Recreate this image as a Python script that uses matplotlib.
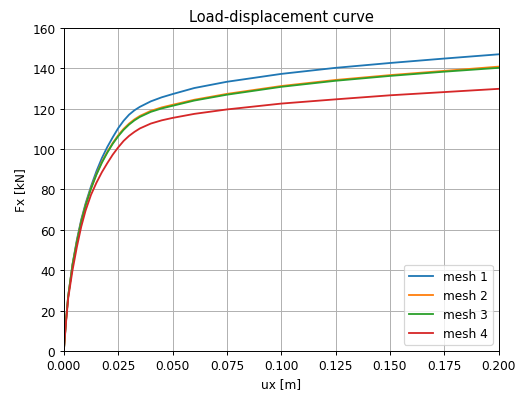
import numpy as np
import matplotlib.pyplot as plt

ux = [0, 0.001, 0.002, 0.004, 0.006, 0.008, 0.010, 0.0125, 0.015, 0.0175,
      0.02, 0.0225, 0.025, 0.0275, 0.03, 0.0325, 0.035, 0.04, 0.045, 0.05,
      0.06, 0.075, 0.1, 0.125, 0.15, 0.175, 0.2]

fx_mesh1 = [0, 15, 27, 43, 55, 65, 73, 81.5, 89, 95.5,
            101, 105.8, 110.3, 114, 117, 119.2, 120.9, 123.6, 125.6, 127.2,
            130.2, 133.3, 137.2, 140.2, 142.6, 144.8, 146.9]
fx_mesh2 = [0, 15, 27, 42.7, 54.3, 64.3, 72.3, 80.6, 87.6, 93.6,
            98.6, 103, 106.8, 110, 112.6, 114.7, 116.4, 118.9, 120.6, 121.9,
            124.4, 127.3, 131.2, 134.2, 136.6, 138.7, 140.8]
fx_mesh3 = [0, 15, 27, 42.5, 54, 64, 72, 80.3, 87.3, 93.2,
            98.2, 102.6, 106.3, 109.5, 112.1, 114.2, 115.9, 118.4, 120.1, 121.4,
            124, 126.9, 130.8, 133.8, 136.2, 138.3, 140.2]
fx_mesh4 = [0, 14, 26, 40, 51.5, 61.5, 69.5, 77.3, 83.3, 88.5,
            93, 97.2, 100.8, 104, 106.5, 108.5, 110.2, 112.6, 114.2, 115.4,
            117.4, 119.6, 122.5, 124.6, 126.6, 128.2, 129.8]

fig = plt.figure(figsize=(5.93, 4.514), dpi=87.5)
ax = fig.add_axes([0.123, 0.109, 0.838, 0.818])
ax.plot(ux, fx_mesh1, label='mesh 1')
ax.plot(ux, fx_mesh2, label='mesh 2')
ax.plot(ux, fx_mesh3, label='mesh 3')
ax.plot(ux, fx_mesh4, label='mesh 4')
ax.set_xlim(0, 0.2)
ax.set_ylim(0, 160)
ax.set_xlabel('ux [m]')
ax.set_ylabel('Fx [kN]')
ax.set_title('Load-displacement curve')
ax.grid()
ax.legend(loc='lower right')
fig.savefig('out.png', dpi=87.5)
